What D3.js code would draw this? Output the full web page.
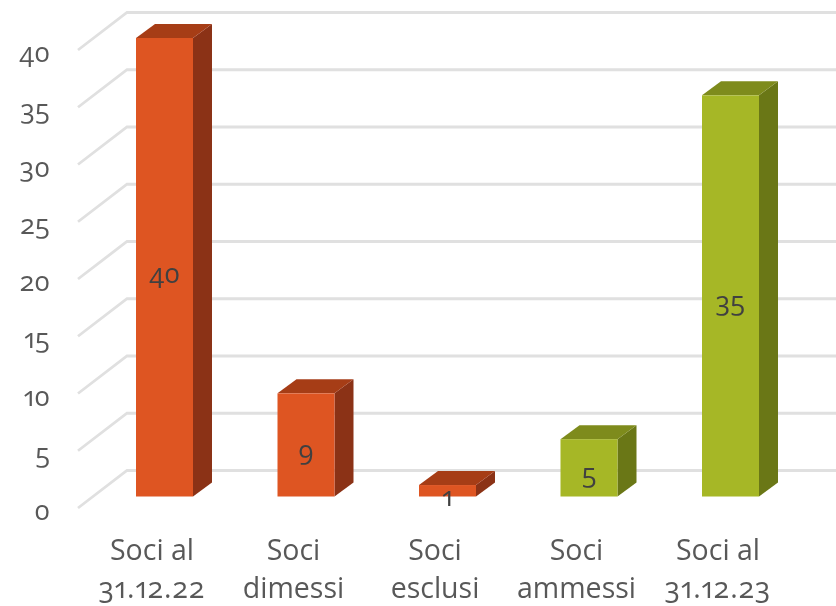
<!DOCTYPE html>
<html>
<head>
<meta charset="utf-8">
<script src="https://cdn.jsdelivr.net/npm/d3@7"></script>
<style>
html, body { margin: 0; padding: 0; background: #fff; }
text { font-family: "Open Sans", Lato, sans-serif; font-feature-settings: "onum" 1, "pnum" 1; }
</style>
</head>
<body>
<div id="chart"></div>
<script>
const categories = [["Soci al", "31.12.22"], ["Soci", "dimessi"], ["Soci", "esclusi"], ["Soci", "ammessi"], ["Soci al", "31.12.23"]];
const values = [40, 9, 1, 5, 35];
const kinds = ["out", "out", "out", "in", "in"];
const yTicks = [0, 5, 10, 15, 20, 25, 30, 35, 40];

const width = 836, height = 606;

const faceColors = {
    out: { front: "#de5524", top: "#a63c17", side: "#8b3216" },
    in: { front: "#a6b727", top: "#7e8b1d", side: "#6b7716" }
};

const svg = d3.select("#chart").append("svg")
    .attr("width", width)
    .attr("height", height);

// the reference is a soft upscaled picture
svg.append("filter").attr("id", "soft")
    .attr("filterUnits", "userSpaceOnUse")
    .attr("x", 0).attr("y", 0)
    .attr("width", width).attr("height", height)
    .append("feGaussianBlur").attr("stdDeviation", 0.45);

const root = svg.append("g").attr("filter", "url(#soft)");

// front edge of the floor and the scale the bars stand on
const y = d3.scaleLinear().domain([0, 40]).range([496.5, 38]);
const yFloor = d3.scaleLinear().domain([0, 40]).range([508, 50]);
const x = d3.scaleBand().domain(d3.range(values.length)).range([93.75, 801.25]).paddingInner(0).paddingOuter(0);

const barW = 57, depthX = 19, depthY = 14;

// Gridlines on side wall and back wall
root.append("g").selectAll("path")
    .data(yTicks)
    .enter()
    .append("path")
    .attr("d", d => `M78,${yFloor(d)}L127,${yFloor(d) - 37.5}L836,${yFloor(d) - 37.5}`)
    .attr("fill", "none")
    .attr("stroke", "#e0e0e0")
    .attr("stroke-width", 2.8);

// Y axis
const axis = root.append("g")
    .attr("transform", "translate(50,3)")
    .call(d3.axisLeft(yFloor).tickValues(yTicks).tickSize(0).tickPadding(0).tickFormat(d3.format("d")));
axis.select(".domain").remove();
axis.selectAll("text")
    .attr("font-size", 27)
    .attr("fill", "#595959")
    .style("font-family", null);

// Bars
const bar = root.append("g").selectAll("g")
    .data(values)
    .enter()
    .append("g")
    .attr("transform", (d, i) => `translate(${x(i) + (x.bandwidth() - barW) / 2},0)`);

bar.append("path")
    .attr("d", d => `M${barW},${y(d)}l${depthX},${-depthY}V${y(0) - depthY}l${-depthX},${depthY}Z`)
    .attr("fill", (d, i) => faceColors[kinds[i]].side);

bar.append("path")
    .attr("d", d => `M0,${y(d)}l${depthX},${-depthY}h${barW}l${-depthX},${depthY}Z`)
    .attr("fill", (d, i) => faceColors[kinds[i]].top);

bar.append("rect")
    .attr("x", 0)
    .attr("y", d => y(d))
    .attr("width", barW)
    .attr("height", d => y(0) - y(d))
    .attr("fill", (d, i) => faceColors[kinds[i]].front);

// Data labels
bar.append("text")
    .attr("x", barW / 2)
    .attr("y", d => (y(d) + y(0)) / 2 + 6)
    .attr("dy", "0.35em")
    .attr("text-anchor", "middle")
    .attr("font-size", 27)
    .attr("fill", "#404040")
    .text(d => d);

// Category labels
const labelGroup = root.append("g").selectAll("text")
    .data(categories)
    .enter()
    .append("text")
    .attr("text-anchor", "middle")
    .attr("font-size", 28.5)
    .attr("fill", "#595959");

labelGroup.selectAll("tspan")
    .data((d, i) => d.map(t => ({ t, i })))
    .enter()
    .append("tspan")
    .attr("x", d => x(d.i) + x.bandwidth() / 2 - 12.5)
    .attr("y", (d, j) => 560 + j * 38)
    .attr("letter-spacing", d => /^\d/.test(d.t) ? 1 : 0)
    .text(d => d.t);
</script>
</body>
</html>
